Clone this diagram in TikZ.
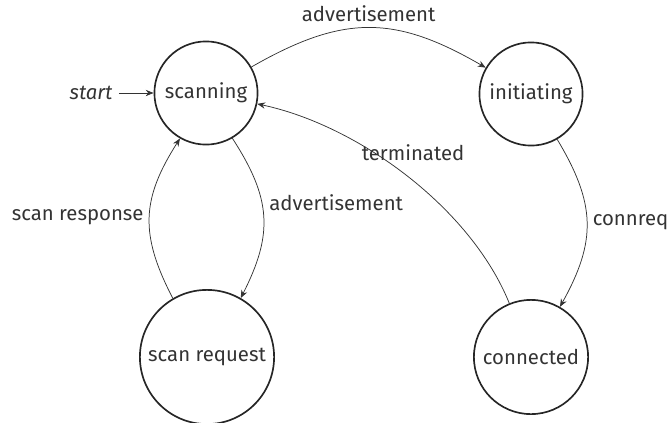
\documentclass[tikz,border=0pt]{standalone}
\usepackage{fontspec}
\setmainfont{Fira Sans}
\usetikzlibrary{arrows.meta}
\tikzset{
  >={Stealth[length=1.5mm,width=1.2mm]},
  state/.style={circle,draw=black!85,line width=0.9pt,minimum size=1.96cm,inner sep=1pt,text=black!80},
  trans/.style={->,draw=black!80,line width=0.4pt,looseness=1.15},
  lbl/.style={auto,inner sep=3pt,text=black!80},
  every picture/.style={font=\fontsize{11}{13}\selectfont},
}
\begin{document}
\begin{tikzpicture}
\useasboundingbox (0,0) rectangle (12.73,-8.037);
\node[state] (scan) at (3.914,-1.767){scanning};
\node[state] (init) at (10.089,-1.786){initiating};
\node[state,minimum size=2.55cm] (req) at (3.933,-6.783){scan request};
\node[state,minimum size=2.17cm] (conn) at (10.089,-6.783){connected};
\node[anchor=east,text=black!80,font=\fontsize{11}{13}\selectfont\itshape] (start) at (2.26,-1.767){start};
\draw[trans] (start)--(scan);
\draw[trans] (scan) to[bend left=30] node[lbl]{advertisement} (init);
\draw[trans] (init) to[bend left=30] node[lbl]{connreq} (conn);
\draw[trans] (conn) to[out=112,in=-12,looseness=0.82] node[pos=0.5,xshift=3.5pt,yshift=12.5pt,text=black!80]{terminated} (scan);
\draw[trans] (scan) to[bend left=30] node[lbl]{advertisement} (req);
\draw[trans] (req) to[bend left=30] node[lbl]{scan response} (scan);
\end{tikzpicture}
\end{document}
